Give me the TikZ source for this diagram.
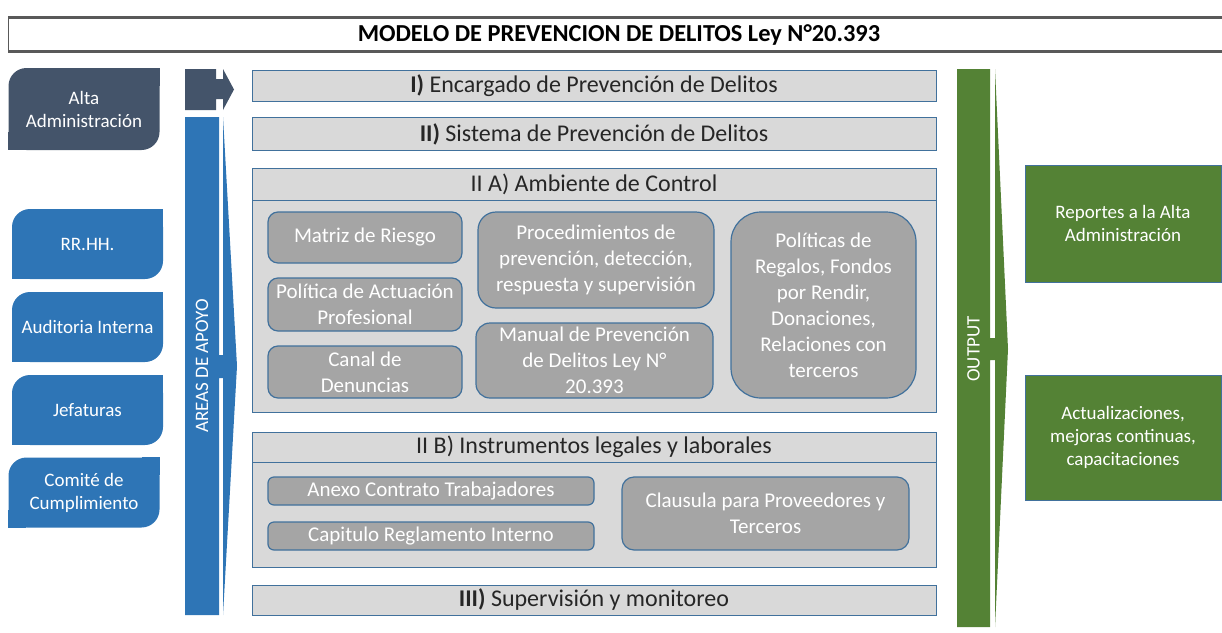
\documentclass[tikz,border=0pt]{standalone}
\usepackage{fontspec}
\setmainfont{Carlito}
\definecolor{slate}{HTML}{44546A}
\definecolor{apoyo}{HTML}{2E75B6}
\definecolor{salida}{HTML}{548235}
\definecolor{barra}{HTML}{D9D9D9}
\definecolor{caja}{HTML}{A5A5A5}
\definecolor{borde}{HTML}{41719C}
\definecolor{marco}{HTML}{595959}

\begin{document}
\begin{tikzpicture}[x=1pt,y=-1pt,
  bar/.style={draw=borde,fill=barra,line width=1pt,minimum width=684pt,inner sep=0pt,
    text=black!85,font=\fontsize{24}{28}\selectfont},
  item/.style={draw=borde,fill=caja,line width=1.2pt,rounded corners=10pt,inner sep=0pt,
    align=center,text=white,font=\fontsize{21}{26}\selectfont},
  side/.style={rounded corners=18pt,inner sep=0pt,align=center,text=white,
    minimum width=151pt,font=\fontsize{19}{23}\selectfont},
  outbox/.style={draw=borde,fill=salida,line width=0.8pt,inner sep=0pt,align=center,
    text=white,minimum width=196pt,font=\fontsize{19}{23}\selectfont}]

  \useasboundingbox (0,0) rectangle (1222,632);

  % Title
  \node[font=\bfseries\fontsize{24.4}{28}\selectfont] (title) at (619,34.5)
    {MODELO DE PREVENCION DE DELITOS Ley N°20.393};
  \draw[marco,line width=2.4pt] (1222,17.5) -- (8,17.5) (8,51.5) -- (1222,51.5);
  \draw[marco,line width=1pt] (8.5,17.5) -- (8.5,51.5);

  % Areas on the left
  \node[side,fill=slate,minimum height=82pt] (alta) at (84,109) {Alta\\Administración};
  \fill[slate] (alta.north east) rectangle ++(-18pt,-18pt);
  \fill[slate] (alta.south west) rectangle ++(18pt,18pt);
  \foreach \name/\y/\txt in {rrhh/244/RR.HH., audit/327/Auditoria Interna, jefes/410/Jefaturas} {
    \node[side,fill=apoyo,minimum height=70pt] (\name) at (87.5,\y) {\txt};
    \fill[apoyo] (\name.north east) rectangle ++(-18pt,-18pt);
    \fill[apoyo] (\name.south west) rectangle ++(18pt,18pt);
  }
  \node[side,fill=apoyo,minimum height=70pt] (comite) at (84,492.5) {Comité de\\Cumplimiento};
  \fill[apoyo] (comite.north east) rectangle ++(-18pt,-18pt);
  \fill[apoyo] (comite.south west) rectangle ++(18pt,18pt);

  % Arrows into the model
  \fill[slate] (185,69) -- (216,69) -- (216,79) -- (223,79) -- (223,69) -- (234,89.5)
    -- (223,110) -- (223,99) -- (216,99) -- (216,110) -- (185,110) -- cycle;
  \fill[apoyo] (185,117) -- (219,117) -- (219,355) -- (223,355) -- (223,117) -- (237,366)
    -- (223,615) -- (223,378) -- (219,378) -- (219,615) -- (185,615) -- cycle;
  \node[rotate=90,text=white,font=\fontsize{19}{23}\selectfont] (apoyos) at (202,366) {AREAS DE APOYO};

  % Model bars
  \node[bar,minimum height=31pt] (enc) at (594,85.5) {\textbf{I)} Encargado de Prevención de Delitos};
  \node[bar,minimum height=33pt] (sis) at (594,134) {\textbf{II)} Sistema de Prevención de Delitos};
  \node[bar,minimum height=244pt] (amb) at (594,290) {};
  \node[bar,minimum height=32pt] (ambhead) at (594,184) {II A) Ambiente de Control};
  \node[bar,minimum height=135pt] (ins) at (594,499.5) {};
  \node[bar,minimum height=30pt] (inshead) at (594,447) {II B) Instrumentos legales y laborales};
  \node[bar,minimum height=30pt] (sup) at (594,600) {\textbf{III)} Supervisión y monitoreo};

  % II A) items
  \node[item,minimum width=194pt,minimum height=51pt] (riesgo) at (365,237.5) {Matriz de Riesgo};
  \node[item,minimum width=194pt,minimum height=53pt] (actuacion) at (365,304.5) {Política de Actuación\\Profesional};
  \node[item,minimum width=194pt,minimum height=52pt] (canal) at (365,372) {Canal de\\Denuncias};
  \node[item,rounded corners=18pt,minimum width=236pt,minimum height=96pt] (proced) at (596,260)
    {Procedimientos de\\prevención, detección,\\respuesta y supervisión};
  \node[item,rounded corners=14pt,minimum width=237pt,minimum height=75pt] (manual) at (594.5,360.5)
    {Manual de Prevención\\de Delitos Ley N°\\20.393};
  \node[item,rounded corners=30pt,minimum width=185pt,minimum height=186pt] (regalos) at (823.5,305)
    {Políticas de\\Regalos, Fondos\\por Rendir,\\Donaciones,\\Relaciones con\\terceros};

  % II B) items
  \node[item,rounded corners=6pt,minimum width=326pt,minimum height=28pt] (anexo) at (431,491) {Anexo Contrato Trabajadores};
  \node[item,rounded corners=6pt,minimum width=326pt,minimum height=28pt] (capitulo) at (431,536) {Capitulo Reglamento Interno};
  \node[item,rounded corners=12pt,minimum width=287pt,minimum height=73pt] (clausula) at (765.5,513.5)
    {Clausula para Proveedores y\\Terceros};

  % Output
  \fill[salida] (957,69) -- (990,69) -- (990,338) -- (995,338) -- (995,69) -- (1008,349)
    -- (995,627) -- (995,360) -- (990,360) -- (990,627) -- (957,627) -- cycle;
  \node[rotate=90,text=white,font=\fontsize{19}{23}\selectfont] (output) at (973.5,349) {OUTPUT};
  \node[outbox,minimum height=117pt] (reportes) at (1123,223.5) {Reportes a la Alta\\Administración};
  \node[outbox,minimum height=125pt] (mejoras) at (1123,437.5) {Actualizaciones,\\mejoras continuas,\\capacitaciones};
\end{tikzpicture}
\end{document}
